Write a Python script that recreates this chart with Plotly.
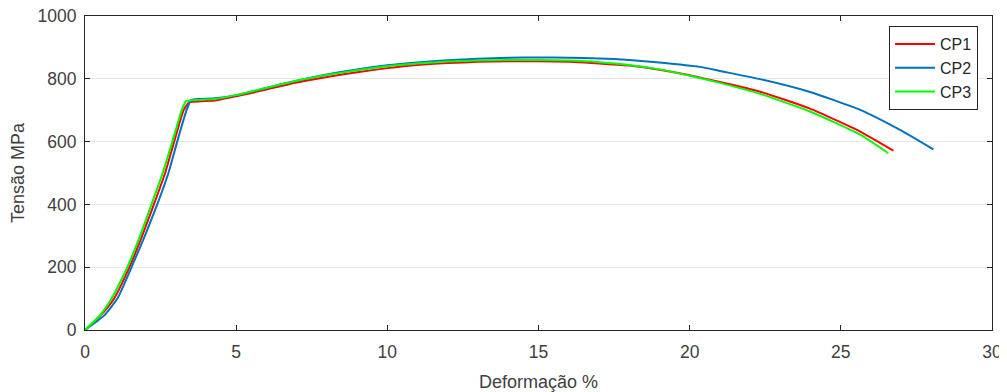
import plotly.graph_objects as go

cp1_x = [0, 0.5, 0.96, 1.47, 1.89, 2.28, 2.65, 2.95, 3.26, 3.44, 3.6, 4.3, 5, 6, 7, 8, 9, 10, 11, 12, 13, 14, 15, 16, 17, 18, 19, 20, 21, 22.33, 23.98, 25.64, 26.74]
cp1_y = [0, 45, 100, 200, 300, 400, 500, 600, 700, 725, 727, 731, 744, 766, 788, 806, 821, 834, 844, 850, 854, 856, 856, 854, 849, 842, 829, 811, 790, 759, 705, 632, 571]

cp2_x = [0, 0.62, 1.07, 1.54, 1.98, 2.39, 2.76, 3.05, 3.36, 3.51, 3.8, 4.3, 5, 6, 7, 8, 9, 10, 11, 12, 13, 14, 15, 16, 17, 18, 19, 20.34, 21, 22.33, 23.98, 25.64, 26.96, 28.06]
cp2_y = [0, 45, 100, 200, 300, 400, 500, 600, 700, 732, 736, 738, 748, 771, 794, 814, 830, 843, 852, 859, 864, 867, 868, 867, 865, 860, 852, 838, 825, 799, 758, 701, 637, 575]

cp3_x = [0, 0.5, 0.88, 1.40, 1.82, 2.20, 2.57, 2.89, 3.20, 3.34, 3.6, 4.3, 5, 6, 7, 8, 9, 10, 11, 12, 13, 14, 15, 16, 17, 18, 19, 20, 21, 22.33, 23.98, 25.64, 26.57]
cp3_y = [0, 47, 100, 200, 300, 400, 500, 600, 700, 729, 732, 736, 748, 771, 794, 812, 827, 840, 849, 855, 858, 860, 860, 858, 853, 844, 830, 810, 787, 752, 696, 622, 563]

series_names = ["CP1", "CP2", "CP3"]
x_ticks = [0, 5, 10, 15, 20, 25, 30]
y_ticks = [0, 200, 400, 600, 800, 1000]

colors = ["#FF0000", "#0072BD", "#00FF00"]
font = "Liberation Sans, Arial, sans-serif"
axcol = "#262626"

fig = go.Figure()
for name, xs, ys, c in zip(series_names, [cp1_x, cp2_x, cp3_x], [cp1_y, cp2_y, cp3_y], colors):
    fig.add_trace(go.Scatter(x=xs, y=ys, mode="lines", name=name,
                             line=dict(color=c, width=2, shape="spline", smoothing=0.5)))

# page body has an 8px margin, so the figure is 999x384 and placed at (8, 8)
fig.update_layout(
    width=999, height=384,
    margin=dict(l=77, r=15, t=8, b=62, autoexpand=False),
    paper_bgcolor="white", plot_bgcolor="white",
    font=dict(family=font, size=17.5, color="#404040"),
    legend=dict(x=0.9846, y=0.968, xanchor="right", yanchor="top",
                bgcolor="white", bordercolor=axcol, borderwidth=1,
                font=dict(size=16, color="#262626"),
                tracegroupgap=0, itemwidth=40),
    showlegend=True,
)
fig.update_xaxes(range=[0, 30], tickvals=x_ticks, ticktext=[str(v) for v in x_ticks],
                 automargin=False, ticklabeloverflow="allow",
                 showgrid=False, zeroline=False, showline=True, linecolor=axcol, linewidth=1,
                 mirror="ticks", ticks="inside", ticklen=5, tickcolor=axcol,
                 ticklabelstandoff=6,
                 title=dict(text="Deformação %", font=dict(size=18, color="#404040"), standoff=14))
fig.update_yaxes(range=[0, 1000], tickvals=y_ticks, ticktext=[str(v) for v in y_ticks],
                 automargin=False, ticklabeloverflow="allow",
                 showgrid=True, gridcolor="#E6E6E6", gridwidth=1, zeroline=False,
                 showline=True, linecolor=axcol, linewidth=1,
                 mirror="ticks", ticks="inside", ticklen=5, tickcolor=axcol,
                 ticklabelstandoff=4,
                 title=dict(text="Tensão MPa", font=dict(size=18, color="#404040"), standoff=16))

fig.write_html("out.html")
